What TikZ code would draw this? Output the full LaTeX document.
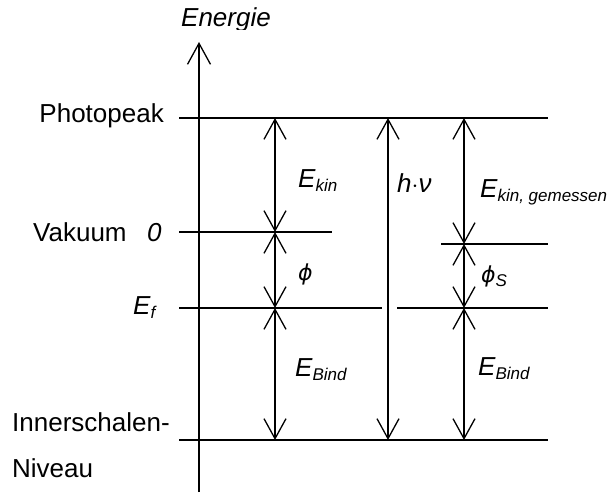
\documentclass[tikz,border=0pt]{standalone}
\usepackage{fontspec}
\setmainfont{Liberation Sans}
\newfontfamily\phifont{DejaVu Sans}
\usetikzlibrary{arrows.meta}
\newcommand\mysubs[1]{\raisebox{-4pt}{\fontsize{17}{17}\selectfont\itshape #1}}
\newcommand\myphi{{\phifont\fontsize{22}{26}\selectfont\itshape ϕ}}
\begin{document}
\begin{tikzpicture}[x=1pt,y=-1pt,
  lvl/.style={line width=1.3pt},
  dbl/.style={line width=1.3pt,{Straight Barb[length=20pt,width=22pt,line width=1.3pt]}-{Straight Barb[length=20pt,width=22pt,line width=1.3pt]}},
  axarr/.style={line width=1.3pt,-{Straight Barb[length=21pt,width=23pt,line width=1.3pt]}},
  lbl/.style={inner sep=0pt,font=\fontsize{26}{30}\selectfont}]
\useasboundingbox (0,0) rectangle (608,494);
% axis
\coordinate (axb) at (199,492);
\coordinate (axt) at (199,42);
\draw[axarr] (axb) -- (axt);
\begin{scope}
\clip (0,0) rectangle (608,29.5);
\node[lbl,anchor=base,font=\fontsize{26}{30}\selectfont\itshape] (en) at (226,27) {Energie};
\end{scope}
% levels
\coordinate (P0) at (179,118); \coordinate (P1) at (548,118);
\coordinate (V0) at (179,232); \coordinate (V1) at (332,232);
\coordinate (F0) at (179,308); \coordinate (F1) at (382,308);
\coordinate (F2) at (397,308); \coordinate (F3) at (548,308);
\coordinate (S0) at (441,244); \coordinate (S1) at (548,244);
\coordinate (I0) at (179,440); \coordinate (I1) at (548,440);
\draw[lvl] (P0) -- (P1);
\draw[lvl] (V0) -- (V1);
\draw[lvl] (F0) -- (F1);
\draw[lvl] (F2) -- (F3);
\draw[lvl] (S0) -- (S1);
\draw[lvl] (I0) -- (I1);
% arrow points
\coordinate (a1P) at (275,118); \coordinate (a1V) at (275,232);
\coordinate (a1F) at (275,308); \coordinate (a1I) at (275,440);
\coordinate (a2P) at (388,118); \coordinate (a2I) at (388,440);
\coordinate (a3P) at (464,118); \coordinate (a3S) at (464,244);
\coordinate (a3F) at (464,308); \coordinate (a3I) at (464,440);
\draw[dbl] (a1P) -- (a1V);
\draw[dbl] (a1V) -- (a1F);
\draw[dbl] (a1F) -- (a1I);
\draw[dbl] (a2P) -- (a2I);
\draw[dbl] (a3P) -- (a3S);
\draw[dbl] (a3S) -- (a3F);
\draw[dbl] (a3F) -- (a3I);
% left labels
\node[lbl,anchor=base east] (ph) at (164,123) {Photopeak};
\node[lbl,anchor=base west] (vk) at (33,241.5) {Vakuum};
\node[lbl,anchor=base west] (nl) at (147,241.5) {\itshape 0};
\node[lbl,anchor=base west] (ef) at (133,315) {\itshape E\mysubs{f}};
\node[lbl,anchor=base west] (is) at (12,431) {Innerschalen-};
\node[lbl,anchor=base west] (nv) at (12,477) {Niveau};
% arrow labels
\node[lbl,anchor=base west] (ek) at (298,188) {\itshape E\mysubs{kin}};
\node[lbl,anchor=base west] (phi) at (298,281) {\myphi};
\node[lbl,anchor=base west] (hn) at (397,193) {\itshape h\raisebox{0pt}{$\cdot$}ν};
\node[lbl,anchor=base west] (ekg) at (480,198) {\itshape E\mysubs{kin, gemessen}};
\node[lbl,anchor=base west] (phs) at (481,283) {\myphi\mysubs{S}};
\node[lbl,anchor=base west] (eb1) at (295,377) {\itshape E\mysubs{Bind}};
\node[lbl,anchor=base west] (eb2) at (478,375) {\itshape E\mysubs{Bind}};
\end{tikzpicture}
\end{document}
